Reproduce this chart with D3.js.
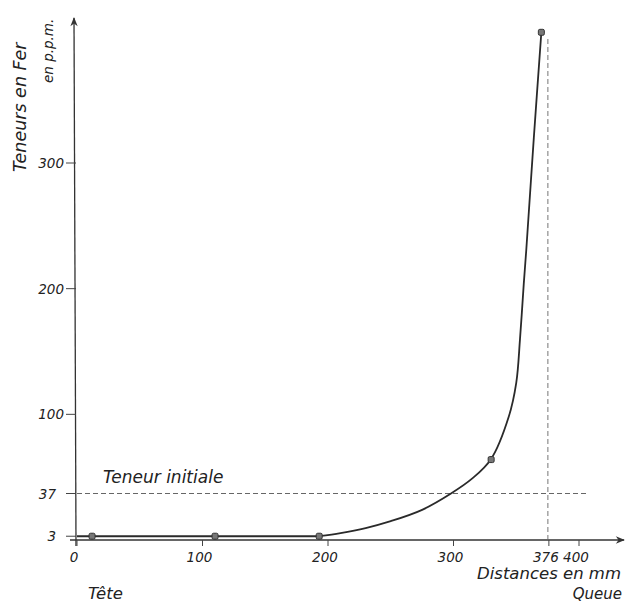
<!DOCTYPE html>
<html>
<head>
    <meta charset="UTF-8">
    <title>Teneurs en Fer</title>
    <style>
        body { margin: 0; background: #fff; }
        text { font-family: "DejaVu Sans", sans-serif; font-style: italic; fill: #222; }
    </style>
</head>
<body>
    <div id="chart"></div>
</body>
<script src="https://cdn.jsdelivr.net/npm/d3@7"></script>
<script>
    // points mesurés
    const measX = [12, 110, 193, 330, 370];
    const measY = [3, 3, 3, 64, 404];
    // courbe tracée : palier puis montée
    const flatX = [0, 12, 110, 193];
    const flatY = [3, 3, 3, 3];
    const riseX = [193, 210, 230, 250, 275, 298, 315, 330, 344, 350, 353, 356, 358, 364, 370];
    const riseY = [3, 5.5, 9.5, 15, 24, 37, 49, 64.5, 98, 125, 160, 204, 231, 320, 404];
    const xTicks = [0, 100, 200, 300, 376, 400];
    const yTicks = [3, 37, 100, 200, 300];
    const initial = 37;
    const tail = 376;

    const W = 628, H = 605;
    const svg = d3.select("#chart").append("svg")
        .attr("width", W)
        .attr("height", H);

    const x = d3.scaleLinear().domain([0, 400]).range([77, 579]);
    const y = d3.scaleLinear().domain([0, 300]).range([540, 163]);

    // flèches
    svg.append("defs").append("marker")
        .attr("id", "arrow").attr("viewBox", "0 0 10 10")
        .attr("refX", 9).attr("refY", 5)
        .attr("markerWidth", 9).attr("markerHeight", 7)
        .attr("orient", "auto")
        .append("path").attr("d", "M0,1 L10,5 L0,9 L3,5 Z").attr("fill", "#333");

    // axe des x
    svg.append("line")
        .attr("x1", 70).attr("x2", 624)
        .attr("y1", y(0)).attr("y2", y(0))
        .attr("stroke", "#333").attr("stroke-width", 1.3)
        .attr("marker-end", "url(#arrow)");
    // axe des y
    svg.append("line")
        .attr("x1", x(0) - 1).attr("x2", x(0) - 3)
        .attr("y1", 546).attr("y2", 18)
        .attr("stroke", "#333").attr("stroke-width", 1.3)
        .attr("marker-end", "url(#arrow)");

    // graduations x
    svg.selectAll(".xt").data(xTicks).enter().append("line")
        .attr("x1", d => x(d)).attr("x2", d => x(d))
        .attr("y1", y(0)).attr("y2", y(0) + 6)
        .attr("stroke", "#444").attr("stroke-width", 1);
    svg.selectAll(".xl").data(xTicks).enter().append("text")
        .attr("x", d => x(d) - 3).attr("y", 562)
        .attr("text-anchor", "middle").attr("font-size", 13.5)
        .text(d => d);

    // graduations y
    svg.selectAll(".yt").data(yTicks).enter().append("line")
        .attr("x1", 66).attr("x2", x(0) - 1)
        .attr("y1", d => y(d)).attr("y2", d => y(d))
        .attr("stroke", "#444").attr("stroke-width", 1);
    svg.selectAll(".yl").data(yTicks).enter().append("text")
        .attr("x", d => d < 50 ? 56 : 64).attr("y", d => y(d) + 5)
        .attr("text-anchor", "end").attr("font-size", 13.5)
        .text(d => d);

    // teneur initiale
    svg.append("line")
        .attr("x1", x(0)).attr("x2", 589)
        .attr("y1", y(initial)).attr("y2", y(initial))
        .attr("stroke", "#555").attr("stroke-width", 0.9)
        .attr("stroke-dasharray", "5,3");
    svg.append("text")
        .attr("x", 103).attr("y", 483)
        .attr("font-size", 17)
        .text("Teneur initiale");

    // queue
    svg.append("line")
        .attr("x1", x(tail) - 1).attr("x2", x(tail) - 1)
        .attr("y1", y(0)).attr("y2", 36)
        .attr("stroke", "#666").attr("stroke-width", 0.9)
        .attr("stroke-dasharray", "5,3");

    // courbe
    const flat = d3.line()
        .x((d, i) => x(flatX[i]))
        .y((d, i) => y(flatY[i]));
    const rise = d3.line()
        .x((d, i) => x(riseX[i]))
        .y((d, i) => y(riseY[i]))
        .curve(d3.curveCatmullRom.alpha(0.5));
    svg.append("path")
        .attr("d", flat(flatX) + rise(riseX).replace(/^M/, "L"))
        .attr("fill", "none").attr("stroke", "#2a2a2a").attr("stroke-width", 1.8);

    // points
    svg.selectAll(".pt").data(measX).enter().append("rect")
        .attr("x", d => x(d) - 3)
        .attr("y", (d, i) => y(measY[i]) - 3)
        .attr("width", 6).attr("height", 6).attr("rx", 1.5)
        .attr("fill", "#777").attr("stroke", "#333").attr("stroke-width", 1);

    // titres
    svg.append("text")
        .attr("transform", "translate(26,172) rotate(-90)")
        .attr("font-size", 17.5)
        .text("Teneurs en Fer");
    svg.append("text")
        .attr("transform", "translate(53,83) rotate(-90)")
        .attr("font-size", 13.5)
        .text("en p.p.m.");
    svg.append("text")
        .attr("x", 621).attr("y", 579)
        .attr("text-anchor", "end").attr("font-size", 16.5)
        .text("Distances en mm");
    svg.append("text")
        .attr("x", 622).attr("y", 599)
        .attr("text-anchor", "end").attr("font-size", 15)
        .text("Queue");
    svg.append("text")
        .attr("x", 88).attr("y", 599)
        .attr("font-size", 16.5)
        .text("Tête");
</script>
</html>
